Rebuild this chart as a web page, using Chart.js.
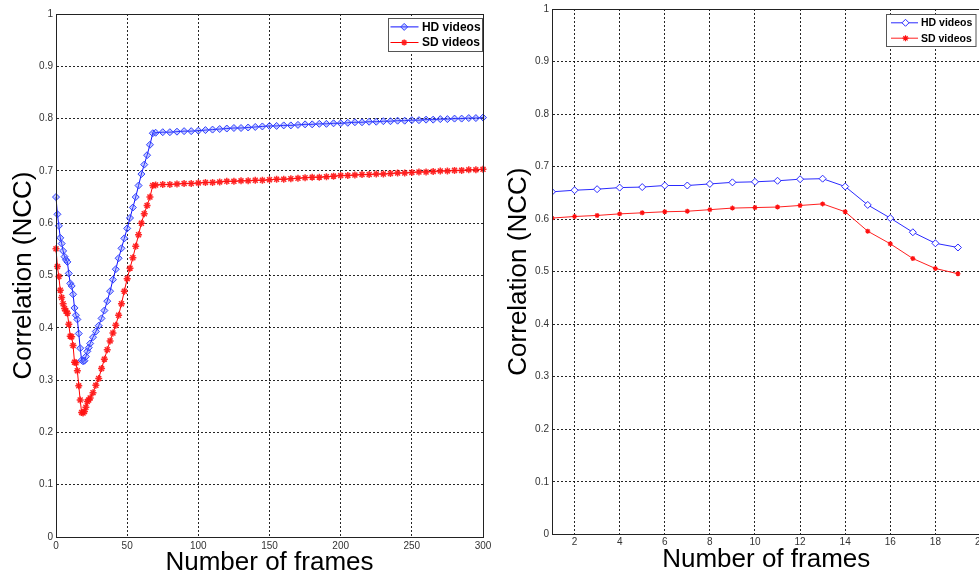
<!DOCTYPE html>
<html>
<head>
<meta charset="utf-8">
<script src="https://cdn.jsdelivr.net/npm/chart.js@4.4.1/dist/chart.umd.min.js"></script>
<style>
html, body { margin: 0; padding: 0; background: #fff; overflow: hidden; width: 979px; height: 576px; }
#left { position: absolute; left: 0; top: 0; }
#right { position: absolute; left: 490px; top: 0; }
</style>
</head>
<body>
<canvas id="left" width="500" height="576"></canvas>
<canvas id="right" width="500" height="576"></canvas>
<script>
// Left plot: correlation vs number of frames (0..300)
var leftFrames = [0,1,2,3,4,5,6,7,8,9,10,11,12,13,14,15,16,17,18,19,20,21,22,23,24,
  26,28,30,32,34,36,38,40,42,44,46,48,50,52,54,56,58,60,62,64,66,68,
  70,75,80,85,90,95,100,105,110,115,120,125,130,135,140,145,150,155,160,165,170,175,180,185,190,195,200,
  205,210,215,220,225,230,235,240,245,250,255,260,265,270,275,280,285,290,295,300];
var leftHD = [0.650,0.617,0.595,0.572,0.561,0.547,0.536,0.530,0.526,0.504,0.485,0.480,0.464,0.438,0.424,0.416,0.389,0.361,0.338,0.336,0.337,0.345,0.355,0.362,0.370,
  0.382,0.393,0.404,0.418,0.433,0.451,0.470,0.492,0.512,0.533,0.552,0.571,0.590,0.610,0.630,0.650,0.672,0.694,0.712,0.730,0.750,0.772,
  0.773,0.774,0.774,0.775,0.776,0.776,0.777,0.778,0.779,0.780,0.781,0.782,0.782,0.783,0.784,0.785,0.786,0.786,0.787,0.787,0.788,0.789,0.789,0.790,0.790,0.791,0.791,
  0.792,0.793,0.793,0.794,0.794,0.795,0.795,0.796,0.796,0.797,0.797,0.798,0.798,0.799,0.799,0.800,0.800,0.801,0.801,0.802];
var leftSD = [0.551,0.517,0.498,0.472,0.458,0.446,0.437,0.432,0.428,0.407,0.384,0.383,0.366,0.334,0.333,0.318,0.289,0.262,0.238,0.237,0.240,0.248,0.259,0.262,0.266,
  0.276,0.290,0.303,0.322,0.340,0.358,0.375,0.390,0.405,0.424,0.446,0.470,0.494,0.514,0.534,0.556,0.578,0.600,0.618,0.634,0.650,0.672,
  0.673,0.674,0.674,0.675,0.676,0.676,0.677,0.678,0.678,0.679,0.680,0.680,0.681,0.681,0.682,0.682,0.683,0.684,0.684,0.685,0.686,0.687,0.688,0.688,0.689,0.690,0.691,
  0.691,0.692,0.693,0.693,0.694,0.694,0.695,0.696,0.696,0.697,0.698,0.698,0.699,0.700,0.700,0.701,0.701,0.702,0.702,0.703];

// Right plot: correlation vs number of frames (1..19)
var rightFrames = [1,2,3,4,5,6,7,8,9,10,11,12,13,14,15,16,17,18,19];
var rightHD = [0.652,0.655,0.657,0.660,0.661,0.664,0.664,0.667,0.670,0.671,0.673,0.676,0.677,0.662,0.627,0.602,0.575,0.554,0.546];
var rightSD = [0.602,0.605,0.607,0.610,0.612,0.614,0.615,0.618,0.621,0.622,0.623,0.626,0.629,0.614,0.577,0.553,0.525,0.506,0.496];

var yTicks = ["0","0.1","0.2","0.3","0.4","0.5","0.6","0.7","0.8","0.9","1"];

var FONT = '"Liberation Sans", Arial, sans-serif';

function pts(xs, ys) {
  return xs.map(function (x, i) { return { x: x, y: ys[i] }; });
}

function drawMarker(ctx, style, x, y, r) {
  ctx.beginPath();
  if (style === 'rectRot') {
    ctx.moveTo(x, y - r); ctx.lineTo(x + r, y); ctx.lineTo(x, y + r); ctx.lineTo(x - r, y); ctx.closePath();
    ctx.fill(); ctx.stroke();
  } else {
    var d = r * 0.7071;
    ctx.moveTo(x - r, y); ctx.lineTo(x + r, y);
    ctx.moveTo(x, y - r); ctx.lineTo(x, y + r);
    ctx.moveTo(x - d, y - d); ctx.lineTo(x + d, y + d);
    ctx.moveTo(x - d, y + d); ctx.lineTo(x + d, y - d);
    ctx.stroke();
  }
}

// box around the axes + legend inside the top right corner
var matlabFrame = {
  id: 'matlabFrame',
  afterDraw: function (chart, args, opts) {
    var a = chart.chartArea, ctx = chart.ctx;
    ctx.save();
    ctx.strokeStyle = '#222';
    ctx.lineWidth = 1;
    ctx.strokeRect(Math.round(a.left) + 0.5, Math.round(a.top) + 0.5, Math.round(a.right - a.left), Math.round(a.bottom - a.top));

    var bx = Math.round(a.right - opts.right - opts.w) + 0.5;
    var by = Math.round(a.top + opts.top) + 0.5;
    ctx.fillStyle = '#fff';
    ctx.fillRect(bx, by, opts.w, opts.h);
    ctx.strokeStyle = '#555';
    ctx.strokeRect(bx, by, opts.w, opts.h);

    ctx.font = 'bold ' + opts.size + 'px ' + FONT;
    ctx.textBaseline = 'middle';
    ctx.textAlign = 'left';
    chart.data.datasets.forEach(function (ds, i) {
      var ry = by + opts.rows[i];
      ctx.strokeStyle = ds.borderColor;
      ctx.lineWidth = 1;
      ctx.beginPath();
      ctx.moveTo(bx + opts.line[0], ry); ctx.lineTo(bx + opts.line[1], ry);
      ctx.stroke();
      ctx.fillStyle = ds.pointBackgroundColor;
      ctx.strokeStyle = ds.pointBorderColor;
      ctx.lineWidth = ds.pointBorderWidth;
      drawMarker(ctx, ds.pointStyle, bx + opts.mark, ry, ds.pointStyle === 'rectRot' ? 3.5 : 3);
      ctx.fillStyle = '#000';
      ctx.fillText(ds.label, bx + opts.text, ry + 0.5);
    });
    ctx.restore();
  }
};

function axes(xOpts, fit) {
  return {
    x: {
      type: 'linear',
      min: xOpts.min, max: xOpts.max,
      afterBuildTicks: function (s) {
        s.ticks = s.ticks.filter(function (t) { return xOpts.keep(t.value); });
      },
      ticks: { stepSize: xOpts.step, padding: fit.xPad, autoSkip: false, maxRotation: 0, color: '#333', font: { family: FONT, size: 10 } },
      grid: { color: 'rgba(0,0,0,0.85)', drawTicks: false },
      border: { display: true, color: '#222', dash: [2, 2] },
      title: { display: true, text: 'Number of frames', color: '#000', font: { family: FONT, size: 26, lineHeight: 1 }, padding: { top: 0, bottom: fit.xTitle } },
      afterFit: function (s) { s.height = fit.xH; s.paddingLeft = 0; s.paddingRight = 0; }
    },
    y: {
      min: 0, max: 1,
      ticks: {
        stepSize: 0.1, padding: 3, color: '#333', font: { family: FONT, size: 10 },
        callback: function (v, i) { return yTicks[i]; }
      },
      grid: { color: 'rgba(0,0,0,0.85)', drawTicks: false },
      border: { display: true, color: '#222', dash: [2, 2] },
      title: { display: true, text: 'Correlation (NCC)', color: '#000', font: { family: FONT, size: 26, lineHeight: 1 }, padding: { top: fit.yTitle, bottom: 0 } },
      afterFit: function (s) { s.width = fit.yW; s.paddingTop = 0; s.paddingBottom = 0; }
    }
  };
}

Chart.defaults.font.family = FONT;

new Chart(document.getElementById('left'), {
  type: 'line',
  data: {
    datasets: [
      {
        label: 'HD videos',
        data: pts(leftFrames, leftHD),
        borderColor: '#1010ff',
        borderWidth: 1,
        pointStyle: 'rectRot',
        pointRadius: 3.5,
        pointBorderColor: '#3040ff',
        pointBackgroundColor: 'rgba(90,110,255,0.35)',
        pointBorderWidth: 1,
        tension: 0,
        clip: false
      },
      {
        label: 'SD videos',
        data: pts(leftFrames, leftSD),
        borderColor: '#ff0000',
        borderWidth: 1,
        pointStyle: 'star',
        pointRadius: 3.5,
        pointBorderColor: 'rgba(255,20,20,0.9)',
        pointBackgroundColor: 'rgba(255,20,20,0.9)',
        pointBorderWidth: 1.5,
        tension: 0,
        clip: false
      }
    ]
  },
  options: {
    responsive: false,
    animation: false,
    devicePixelRatio: 1,
    layout: { autoPadding: false, padding: { top: 14, right: 17, left: 0, bottom: 0 } },
    plugins: {
      legend: { display: false },
      tooltip: { enabled: false },
      matlabFrame: { right: 1.5, top: 4, w: 94, h: 33, rows: [8.4, 24], line: [2, 30], mark: 15.7, text: 33.4, size: 12 }
    },
    scales: axes(
      { min: 0, max: 300, step: 50, keep: function () { return true; } },
      { xH: 39, xPad: 3, xTitle: 0, yW: 56, yTitle: 11 }
    )
  },
  plugins: [matlabFrame]
});

new Chart(document.getElementById('right'), {
  type: 'line',
  data: {
    datasets: [
      {
        label: 'HD videos',
        data: pts(rightFrames, rightHD),
        borderColor: '#2a2aff',
        borderWidth: 1,
        pointStyle: 'rectRot',
        pointRadius: 3.5,
        pointBorderColor: '#2a2aff',
        pointBackgroundColor: '#fff',
        pointBorderWidth: 1,
        tension: 0
      },
      {
        label: 'SD videos',
        data: pts(rightFrames, rightSD),
        borderColor: '#ff2020',
        borderWidth: 1,
        pointStyle: 'star',
        pointRadius: 2.5,
        pointBorderColor: '#ff1010',
        pointBackgroundColor: '#ff1010',
        pointBorderWidth: 1.2,
        tension: 0
      }
    ]
  },
  options: {
    responsive: false,
    animation: false,
    devicePixelRatio: 1,
    layout: { autoPadding: false, padding: { top: 9, right: 9.5, left: 0, bottom: 0 } },
    plugins: {
      legend: { display: false },
      tooltip: { enabled: false },
      matlabFrame: { right: 5.5, top: 5, w: 89.5, h: 32, rows: [8.3, 23.7], line: [4.5, 31.5], mark: 19, text: 34.5, size: 10.5 }
    },
    scales: axes(
      { min: 1, max: 20, step: 2, keep: function (v) { return v % 2 === 0; } },
      { xH: 41.7, xPad: 2, xTitle: 3, yW: 62, yTitle: 16 }
    )
  },
  plugins: [matlabFrame]
});
</script>
</body>
</html>
